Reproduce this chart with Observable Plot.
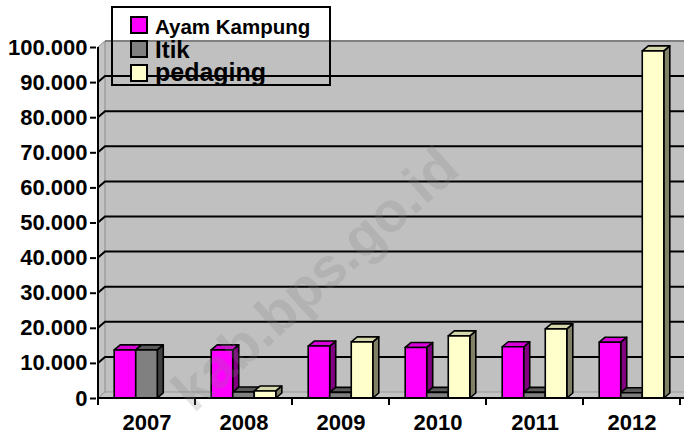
<!DOCTYPE html>
<html><head><meta charset="utf-8">
<script src="https://cdn.jsdelivr.net/npm/d3@7"></script>
<script src="https://cdn.jsdelivr.net/npm/@observablehq/plot@0.6"></script>
<style>body{margin:0;background:#fff;} #chart svg{display:block;}</style>
</head><body><div id="chart"></div>
<script>
const years = ["2007","2008","2009","2010","2011","2012"];
const seriesNames = ["Ayam Kampung","Itik","pedaging"];
const ayamKampung = [13700,13700,14800,14400,14600,15900];
const itik = [13700,1700,1600,1600,1600,1500];
const pedaging = [null,2000,16000,17700,19700,98900];
const yTicks = [0,10000,20000,30000,40000,50000,60000,70000,80000,90000,100000];
const yTickLabels = ["0","10.000","20.000","30.000","40.000","50.000","60.000","70.000","80.000","90.000","100.000"];
const watermarkText = "kab.bps.go.id";

const seriesValues = [ayamKampung, itik, pedaging];
const seriesStyle = [
  {front:"#ff00ff", side:"#800080", top:"#d900d9"},
  {front:"#808080", side:"#404040", top:"#5a5a5a"},
  {front:"#ffffcc", side:"#808066", top:"#d6d6ac"}
];
const FONT = "'Liberation Sans', Arial, Helvetica, sans-serif";

function walls(index, scales, values, dim) {
  const x = scales.x, y = scales.y;
  const g = d3.create("svg:g");
  const X0 = x(years[0]), X1 = dim.width + 10;
  const wdx = 7, wdy = -6;
  const yT = y(100000), yB = y(0);
  g.append("rect").attr("x", X0 + wdx).attr("y", yT + wdy).attr("width", X1 - X0 - wdx).attr("height", yB - yT)
    .attr("fill", "#c0c0c0");
  g.append("path").attr("d", `M${X0},${yT}L${X0+wdx},${yT+wdy}L${X0+wdx},${yB+wdy}L${X0},${yB}Z`)
    .attr("fill", "#c4c4c4").attr("stroke", "#8c8c8c").attr("stroke-width", 1);
  g.append("path").attr("d", `M${X0},${yB}L${X0+wdx},${yB+wdy}L${X1},${yB+wdy}L${X1},${yB}Z`)
    .attr("fill", "#c4c4c4").attr("stroke", "#9a9a9a").attr("stroke-width", 1);
  g.append("path").attr("d", `M${X0+wdx},${yT+wdy}L${X1},${yT+wdy}`).attr("stroke", "#808080").attr("stroke-width", 2);
  for (const t of yTicks) {
    if (t <= 0 || t >= 100000) continue;
    g.append("path").attr("d", `M${X0},${y(t)}L${X0+wdx},${y(t)+wdy}L${X1},${y(t)+wdy}`)
      .attr("fill", "none").attr("stroke", "black").attr("stroke-width", 2);
  }
  return g.node();
}

function bars3d(index, scales) {
  const x = scales.x, y = scales.y;
  const g = d3.create("svg:g").attr("stroke", "black").attr("stroke-width", 1.6).attr("stroke-linejoin", "round");
  const bw = x(years[1]) - x(years[0]);
  const slot = bw * 0.222;
  const ddx = 6, ddy = -5;
  years.forEach((yr, i) => {
    const gx = x(yr) + bw / 2 - slot * 1.5;
    seriesValues.forEach((vals, j) => {
      const v = vals[i];
      if (v == null) return;
      const st = seriesStyle[j];
      const l = gx + j * slot, r = l + slot, t = y(v), b = y(0);
      g.append("path").attr("d", `M${r},${b}L${r+ddx},${b+ddy}L${r+ddx},${t+ddy}L${r},${t}Z`).attr("fill", st.side);
      g.append("path").attr("d", `M${l},${t}L${l+ddx},${t+ddy}L${r+ddx},${t+ddy}L${r},${t}Z`).attr("fill", st.top);
      g.append("rect").attr("x", l).attr("y", t).attr("width", slot).attr("height", b - t).attr("fill", st.front);
    });
  });
  return g.node();
}

function axisLines(index, scales, values, dim) {
  const x = scales.x, y = scales.y;
  const g = d3.create("svg:g").attr("stroke", "black").attr("stroke-width", 2).attr("fill", "none");
  const X0 = x(years[0]);
  const bw = x(years[1]) - x(years[0]);
  g.append("path").attr("d", `M${X0},${y(100000)}L${X0},${y(0)+5}`);
  g.append("path").attr("d", `M${X0},${y(0)}L${dim.width},${y(0)}`);
  const bounds = years.map(yr => x(yr)).concat([x(years[years.length-1]) + bw]);
  for (const bx of bounds) g.append("path").attr("d", `M${bx},${y(0)}L${bx},${y(0)+7}`);
  return g.node();
}

function legend() {
  const g = d3.create("svg:g").attr("font-family", FONT).attr("font-weight", "bold").attr("text-anchor", "start");
  const clipId = "legclip";
  g.append("clipPath").attr("id", clipId).append("rect").attr("x", 112).attr("y", 7).attr("width", 218).attr("height", 77);
  const sizes = [20.5, 24, 25];
  const baselines = [33.5, 58, 80.5];
  const swY = [17, 41, 65];
  const inner = g.append("g").attr("clip-path", `url(#${clipId})`);
  seriesNames.forEach((name, j) => {
    inner.append("rect").attr("x", 131).attr("y", swY[j]).attr("width", 16).attr("height", 16)
      .attr("fill", seriesStyle[j].front).attr("stroke", "black").attr("stroke-width", 2);
    inner.append("text").attr("x", 155).attr("y", baselines[j]).attr("font-size", sizes[j])
      .attr("text-anchor", "start").attr("fill", "black").text(name);
  });
  g.append("rect").attr("x", 112).attr("y", 7).attr("width", 218).attr("height", 78)
    .attr("fill", "none").attr("stroke", "black").attr("stroke-width", 2);
  return g.node();
}

function watermark() {
  const g = d3.create("svg:g");
  g.append("text").attr("transform", "translate(318,282) rotate(-42)")
    .attr("text-anchor", "middle").attr("dominant-baseline", "middle")
    .attr("font-family", FONT).attr("font-weight", "bold").attr("font-size", 56)
    .attr("fill", "#808080").attr("fill-opacity", 0.22).text(watermarkText);
  return g.node();
}

const chart = Plot.plot({
  width: 684,
  height: 436,
  marginLeft: 96,
  marginRight: 2,
  marginTop: 47,
  marginBottom: 38,
  style: {background: "white", fontFamily: FONT, fontSize: "21px", fontWeight: "bold", color: "black", overflow: "visible"},
  x: {type: "band", domain: years, padding: 0},
  y: {domain: [0, 100000]},
  marks: [
    walls,
    bars3d,
    Plot.axisY({ticks: yTicks, tickFormat: d => yTickLabels[yTicks.indexOf(d)], tickSize: 6, tickPadding: 3,
      stroke: "black", strokeWidth: 2, fill: "black", fontSize: 22, fontWeight: "bold", label: null}),
    Plot.axisX({tickSize: 0, tickPadding: 16, fill: "black", fontSize: 22, fontWeight: "bold", label: null}),
    axisLines,
    legend,
    watermark
  ]
});
document.getElementById("chart").appendChild(chart);
</script>
</body></html>
